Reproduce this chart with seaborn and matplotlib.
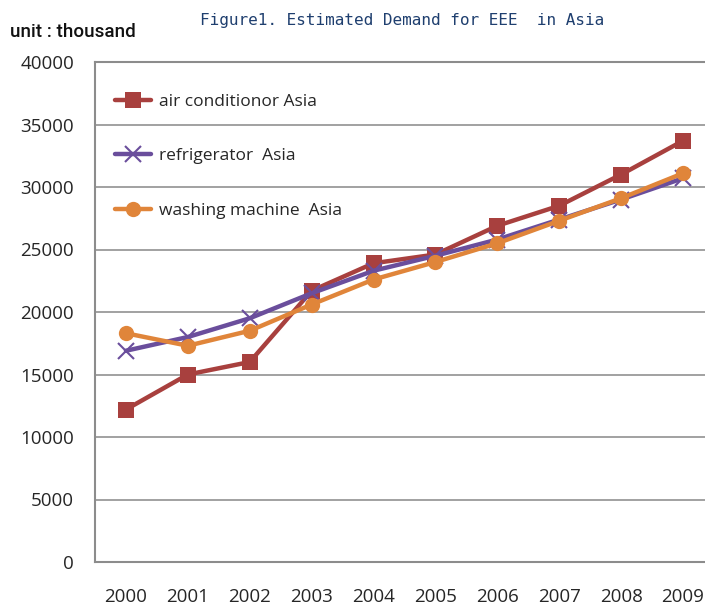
import matplotlib
matplotlib.use("Agg")
import matplotlib.pyplot as plt
import seaborn as sns
import pandas as pd

years = [2000, 2001, 2002, 2003, 2004, 2005, 2006, 2007, 2008, 2009]
air_conditioner = [12200, 15000, 16000, 21700, 23900, 24600, 26900, 28500, 31000, 33700]
refrigerator = [16900, 18000, 19500, 21500, 23300, 24500, 25800, 27400, 29000, 30700]
washing_machine = [18300, 17300, 18500, 20600, 22600, 24000, 25500, 27300, 29100, 31100]
series_names = ["air conditionor Asia", "refrigerator  Asia", "washing machine  Asia"]
y_ticks = [0, 5000, 10000, 15000, 20000, 25000, 30000, 35000, 40000]

sns.set_style("white")
plt.rcParams['font.family'] = ['Open Sans', 'DejaVu Sans']

df = pd.DataFrame({
    "year": years * 3,
    "value": air_conditioner + refrigerator + washing_machine,
    "series": [series_names[0]] * 10 + [series_names[1]] * 10 + [series_names[2]] * 10,
})

colors = {series_names[0]: "#A8403E", series_names[1]: "#6A4E9C", series_names[2]: "#E0853A"}
markers = {series_names[0]: "s", series_names[1]: "x", series_names[2]: "o"}

fig = plt.figure(figsize=(7.05, 6.06), dpi=100)
ax = fig.add_axes([95 / 705, 44 / 606, 619 / 705, 500 / 606])

for name in series_names:
    sub = df[df["series"] == name]
    sns.lineplot(data=sub, x="year", y="value", ax=ax, color=colors[name],
                 marker=markers[name], markersize=11, linewidth=3.2,
                 markeredgewidth=1.5 if markers[name] == "x" else 0,
                 markeredgecolor=colors[name], label=name)

ax.set_xlim(1999.5, 2009.5)
ax.set_ylim(0, 40000)
ax.set_xticks(years)
ax.set_xticklabels([str(y) for y in years])
ax.set_yticks(y_ticks)
ax.set_yticklabels([str(t) for t in y_ticks])
ax.set_xlabel("")
ax.set_ylabel("")
ax.yaxis.grid(True, color="#9A9A9A", linewidth=1.3)
ax.set_axisbelow(True)
for s in ax.spines.values():
    s.set_color("#8C8C8C")
    s.set_linewidth(1.5)
ax.tick_params(axis="x", length=0, pad=19, labelsize=13.5)
ax.tick_params(axis="y", length=0, pad=15, labelsize=13.5)

leg = ax.legend(loc="upper left", bbox_to_anchor=(20 / 619, 1 - 32 / 500), frameon=False,
                fontsize=12.5, labelspacing=2.2, handlelength=2.1, handletextpad=0.45,
                borderpad=0, borderaxespad=0)

fig.text(402 / 705, 1 - 21 / 606, "Figure1. Estimated Demand for EEE  in Asia",
         ha="center", va="center", fontsize=11.5, color="#1F3F6F",
         family=["DejaVu Sans Mono"])
fig.text(10 / 705, 1 - 32 / 606, "unit : thousand", ha="left", va="center",
         fontsize=13.5, color="#111111", weight="medium",
         family=["Roboto", "Liberation Sans", "DejaVu Sans"])

fig.savefig("out.png", dpi=100)
